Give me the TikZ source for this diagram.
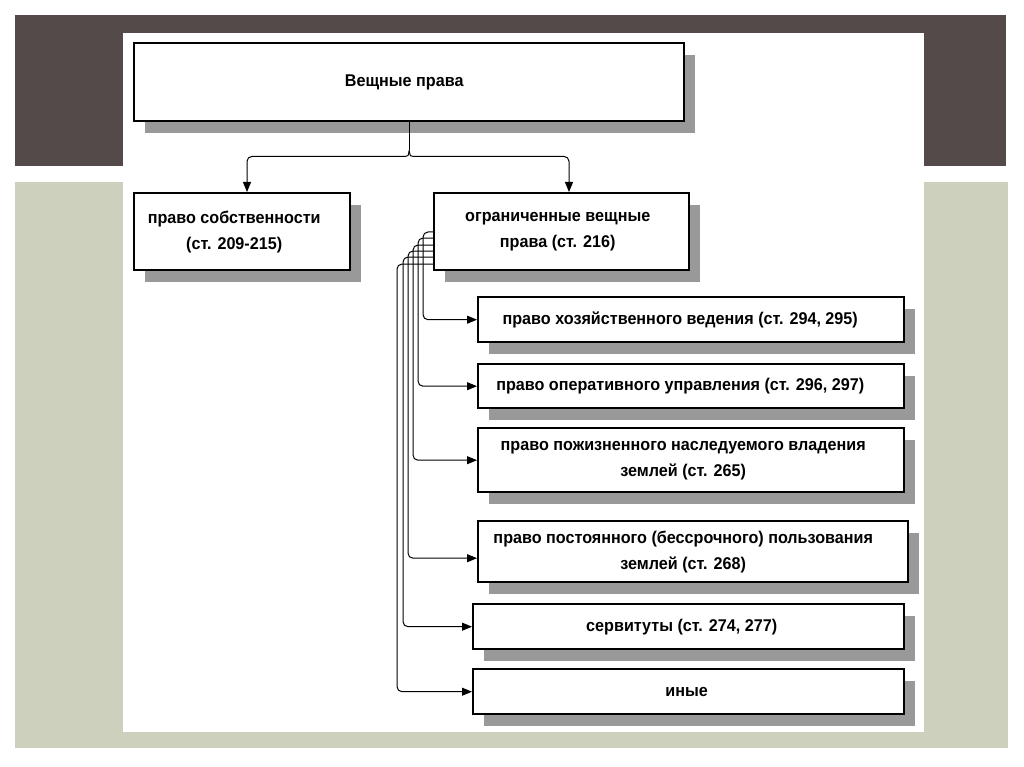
\documentclass[tikz,border=0pt]{standalone}
\usepackage{fontspec}
\setmainfont{Liberation Sans}[FakeStretch=0.95]
\usetikzlibrary{arrows.meta,calc,shadows,patterns}
\definecolor{darkband}{RGB}{85,74,74}
\definecolor{greenband}{RGB}{205,208,189}
\tikzset{
  box/.style={draw=black, line width=2.4pt, fill=white, anchor=north west, inner sep=0pt,
    general shadow={shadow xshift=11pt, shadow yshift=-12pt, fill=black!40}},
  txt/.style={align=center, font=\fontsize{17}{26}\selectfont\bfseries, inner sep=0pt},
  conn/.style={draw=black, line width=1pt, rounded corners=5pt, -{Triangle[length=10pt,width=8pt]}},
  plain/.style={draw=black, line width=1pt}
}
\begin{document}
\begin{tikzpicture}[x=1pt,y=-1pt]
\useasboundingbox (0,0) rectangle (1024,767);
\fill[white] (0,0) rectangle (1024,767);
\fill[darkband] (15,15) rectangle (1006,166);
\fill[greenband] (15,182) rectangle (1008,748);
\fill[white] (123,33) rectangle (924,732);

% boxes
\node[box, minimum width=550pt, minimum height=78pt] (b1) at (133,42) {};
\node[box, minimum width=216pt, minimum height=77pt] (bL) at (133,192) {};
\node[box, minimum width=255pt, minimum height=77pt] (b2) at (433,192) {};
\node[box, minimum width=426pt, minimum height=45pt] (b3) at (477,296) {};
\node[box, minimum width=426pt, minimum height=44pt] (b4) at (477,363) {};
\node[box, minimum width=426pt, minimum height=64pt] (b5) at (477,427) {};
\node[box, minimum width=430pt, minimum height=61pt] (b6) at (477,520) {};
\node[box, minimum width=431pt, minimum height=45pt] (b7) at (472,603) {};
\node[box, minimum width=431pt, minimum height=45pt] (b8) at (472,668) {};

% texts
\node[txt] (t1) at ([xshift=-5pt]b1.center) {Вещные права};
\node[txt] (tL) at ([xshift=-8pt]bL.center) {право собственности\\(ст. 209-215)};
\node[txt] (t2) at ([xshift=-4pt]b2.center) {ограниченные вещные\\права (ст. 216)};
\node[txt] (t3) at ([xshift=-11pt]b3.center) {право хозяйственного ведения (ст. 294, 295)};
\node[txt] (t4) at ([xshift=-11pt]b4.center) {право оперативного управления (ст. 296, 297)};
\node[txt] (t5) at ([xshift=-8pt]b5.center) {право пожизненного наследуемого владения\\землей (ст. 265)};
\node[txt] (t6) at ([xshift=-10pt]b6.center) {право постоянного (бессрочного) пользования\\землей (ст. 268)};
\node[txt] (t7) at ([xshift=-7pt]b7.center) {сервитуты (ст. 274, 277)};
\node[txt] (t8) at ([xshift=-2pt]b8.center) {иные};

% top connector
\coordinate (j) at ($(b1.south)+(0,28)$);
\draw[plain] (b1.south) -- (j);
\draw[conn] (j) .. controls ($(j)+(-1,6)$) .. ($(j)+(-9,6)$) -| ($(bL.north west)+(114,0)$);
\draw[conn] (j) .. controls ($(j)+(1,6)$) .. ($(j)+(9,6)$) -| ($(b2.north west)+(136,0)$);

% fan connectors
\draw[conn] ($(b2.north west)+(0,40)$) -| ([xshift=-54pt]b3.west) -- (b3.west);
\draw[conn] ($(b2.north west)+(0,46)$) -| ([xshift=-59pt]b4.west) -- (b4.west);
\draw[conn] ($(b2.north west)+(0,53)$) -| ([xshift=-64pt]b5.west) -- (b5.west);
\draw[conn] ($(b2.north west)+(0,59)$) -| ([xshift=-69pt,yshift=-6.5pt]b6.west) -- ([yshift=-6.5pt]b6.west);
\draw[conn] ($(b2.north west)+(0,65)$) -| ([xshift=-69pt]b7.west) -- (b7.west);
\draw[conn] ($(b2.north west)+(0,72)$) -| ([xshift=-75pt]b8.west) -- (b8.west);
\end{tikzpicture}
\end{document}
